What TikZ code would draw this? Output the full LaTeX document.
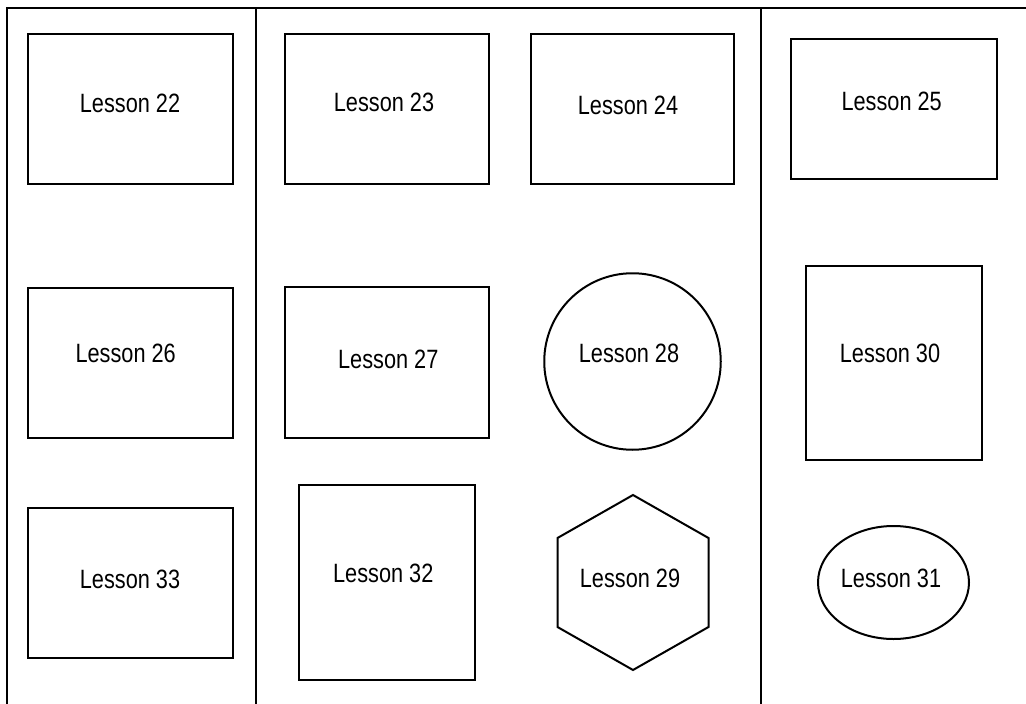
\documentclass[tikz,border=0pt]{standalone}
\usepackage{fontspec}
\setmainfont{Liberation Sans}
\usetikzlibrary{shapes.geometric}
\begin{document}
\begin{tikzpicture}[x=1pt,y=-1pt,line width=2pt,
  shp/.style={draw=black,inner sep=0pt,outer sep=0pt},
  lbl/.style={anchor=base,inner sep=0pt,font=\fontsize{26.5}{30}\selectfont},
  line join=miter]
\useasboundingbox (0,0) rectangle (1026,704);
% frame
\coordinate (tl) at (7,7.5);
\coordinate (tr) at (1030,7.5);
\coordinate (bl) at (7,710);
\draw (bl) -- (tl) -- (tr);
\coordinate (d1t) at (256,7.5);
\coordinate (d1b) at (256,710);
\coordinate (d2t) at (761,7.5);
\coordinate (d2b) at (761,710);
\draw (d1t) -- (d1b);
\draw (d2t) -- (d2b);
% shapes
\node[shp,rectangle,minimum width=204.5pt,minimum height=150pt] (b22) at (130.5,109) {};
\node[shp,rectangle,minimum width=204.5pt,minimum height=150pt] (b23) at (387,109.2) {};
\node[shp,rectangle,minimum width=203.5pt,minimum height=150pt] (b24) at (632.3,109.2) {};
\node[shp,rectangle,minimum width=205.5pt,minimum height=140pt] (b25) at (893.8,109.3) {};
\node[shp,rectangle,minimum width=204.5pt,minimum height=149.5pt] (b26) at (130.5,363) {};
\node[shp,rectangle,minimum width=204.5pt,minimum height=151.5pt] (b27) at (387,362.5) {};
\node[shp,circle,minimum size=176.5pt] (b28) at (632.5,361.5) {};
\node[shp,rectangle,minimum width=175.5pt,minimum height=194.5pt] (b30) at (893.8,362.9) {};
\node[shp,rectangle,minimum width=204.5pt,minimum height=149.5pt] (b33) at (130.5,583) {};
\node[shp,rectangle,minimum width=175.5pt,minimum height=195pt] (b32) at (387.2,582.5) {};
\coordinate (h1) at (633,495);
\coordinate (h2) at (708.5,538);
\coordinate (h3) at (708.5,627);
\coordinate (h4) at (633,670);
\coordinate (h5) at (557.5,627);
\coordinate (h6) at (557.5,538);
\draw (h1) -- (h2) -- (h3) -- (h4) -- (h5) -- (h6) -- cycle;
\node[shp,ellipse,minimum width=151pt,minimum height=113pt] (b31) at (893.5,582.5) {};
% labels
\node[lbl] (t22) at (130,112.5) {\scalebox{0.82}[1]{Lesson 22}};
\node[lbl] (t23) at (384,111.2) {\scalebox{0.82}[1]{Lesson 23}};
\node[lbl] (t24) at (628,114.5) {\scalebox{0.82}[1]{Lesson 24}};
\node[lbl] (t25) at (891.7,110.3) {\scalebox{0.82}[1]{Lesson 25}};
\node[lbl] (t26) at (125.7,362.8) {\scalebox{0.82}[1]{Lesson 26}};
\node[lbl] (t27) at (388.3,368.2) {\scalebox{0.82}[1]{Lesson 27}};
\node[lbl] (t28) at (629,362.2) {\scalebox{0.82}[1]{Lesson 28}};
\node[lbl] (t30) at (890,362.8) {\scalebox{0.82}[1]{Lesson 30}};
\node[lbl] (t33) at (130,588.2) {\scalebox{0.82}[1]{Lesson 33}};
\node[lbl] (t32) at (383.3,582.5) {\scalebox{0.82}[1]{Lesson 32}};
\node[lbl] (t29) at (630,587.2) {\scalebox{0.82}[1]{Lesson 29}};
\node[lbl] (t31) at (891,587.8) {\scalebox{0.82}[1]{Lesson 31}};
\end{tikzpicture}
\end{document}
